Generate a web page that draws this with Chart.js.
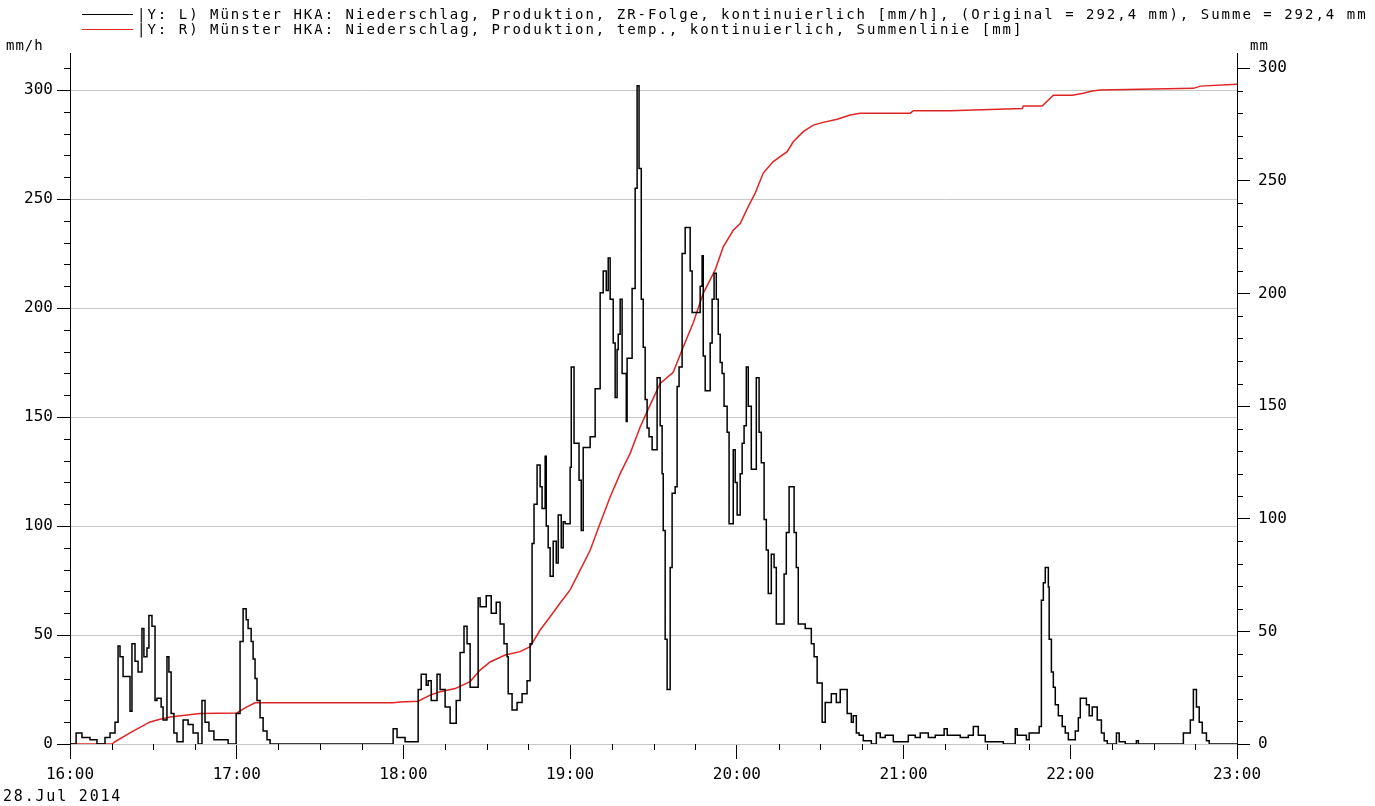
<!DOCTYPE html>
<html>
<head>
<meta charset="utf-8">
<script src="https://cdn.jsdelivr.net/npm/chart.js@4.4.1/dist/chart.umd.min.js"></script>
<style>
  body { margin: 0; background: #ffffff; }
  #wrap { position: relative; width: 1375px; height: 806px; overflow: hidden; font-family: "DejaVu Sans Mono", monospace; color: #000; }
  #wrap canvas { position: absolute; left: 0; top: 0; }
  .txt { position: absolute; font-size: 14px; letter-spacing: 2px; white-space: nowrap; line-height: 15px; }
  .sample { position: absolute; left: 82px; width: 51px; height: 0; border-top: 1.5px solid; }
</style>
</head>
<body>
<div id="wrap">
  <canvas id="rain" width="1375" height="806"></canvas>
  <div class="sample" style="top:14px;border-color:#000000"></div>
  <div class="sample" style="top:29px;border-color:#e02424"></div>
  <div class="txt" style="left:137px;top:7px">|Y: L) Münster HKA: Niederschlag, Produktion, ZR-Folge, kontinuierlich [mm/h], (Original = 292,4 mm), Summe = 292,4 mm</div>
  <div class="txt" style="left:137px;top:22px">|Y: R) Münster HKA: Niederschlag, Produktion, temp., kontinuierlich, Summenlinie [mm]</div>
  <div class="txt" style="left:6px;top:38px;letter-spacing:1px">mm/h</div>
  <div class="txt" style="left:1250px;top:38px;letter-spacing:1px">mm</div>
  <div class="txt" style="left:3px;top:789px;font-size:15px;letter-spacing:1.8px">28.Jul 2014</div>
</div>
<script>
// time axis in minutes after 16:00
const hourLabels = ['16:00', '17:00', '18:00', '19:00', '20:00', '21:00', '22:00', '23:00'];

// ZR-Folge (mm/h), step values, left axis
const rateMinutes = [
  0, 2.2, 4.3, 7.2, 9.7, 12.6, 14.4, 16.2, 17.3, 18, 19.1, 21.6, 22.3, 23.4, 24.5, 25.9, 26.6, 27.7, 28.4, 29.5,
  30.6, 31.3, 32.8, 33.5, 34.9, 35.6, 36.4, 37.4, 38.5, 40.7, 42.5, 44.3, 46.1, 47.5, 48.6, 50, 51.8, 56.9, 59.8,
  61.2, 62.3, 63.4, 64.1, 65.2, 65.9, 66.6, 67.3, 68.4, 69.5, 70.9, 72,
  116.3, 117.7, 120.6, 125.3, 126.4, 128.2, 128.9, 130, 132.1, 133.2, 135, 136.8, 139, 140.4, 141.8, 142.9, 144,
  146.9, 147.6, 149.8, 151.6, 153.4, 154.8, 156.2, 157.3, 157.7, 159.1, 160.9, 162.7, 164.5, 165.6, 166.3, 167,
  168.1, 169.2, 169.9, 171, 171.4, 172.1, 172.8, 173.9, 175, 175.7, 176.8, 177.5, 178.2, 180, 180.4, 181.4, 183.2,
  184, 184.7, 187.2, 189, 190.8, 191.9, 193, 193.7, 194.4, 195.5, 196.2, 196.9, 197.3, 198, 198.7, 200.2, 200.5,
  202.3, 203.4, 204.1, 204.8, 205.6, 206.3, 207, 207.7, 208.4, 209.5, 211.3, 212.4, 213.1, 213.5, 214.2, 214.9,
  216, 216.7, 217.8, 218.5, 219.2, 220.3, 221.4, 223.2, 223.9, 226.8, 227.5, 227.9, 228.6, 230.4, 231.1, 231.8,
  232.6, 233.3, 234, 234.7, 235.4, 236.5, 237.2, 238.7, 239.4, 240.1, 241.2, 241.9, 242.6, 243.4, 244.1, 245.2,
  247, 248, 248.8, 249.8, 250.6, 251.3, 252.4, 253.4, 254.2, 257, 257.8, 258.8, 260.6, 261.4, 262.1, 264.6, 266.8,
  267.8, 268.9, 270.7, 271.8, 274, 275.8, 277.2, 279.7, 281.2, 281.9, 283, 284, 285.5, 288.4, 290.2, 291.6, 293.4,
  296.3, 301.7, 304.2, 306, 308.9, 311.4, 314.6, 315.7, 320.4, 323.3, 325.1, 326.9, 329.4, 335.9, 340.2, 340.9,
  344.2, 345.2, 348.8, 349.6, 350.3, 351, 352.1, 352.4, 353.2, 353.9, 354.6, 355.7, 357.1, 358.2, 359.3, 361.8,
  362.9, 363.6, 365.8, 366.8, 367.9, 369.7, 371.2, 372.2, 373.3, 376.6, 377.6, 379.8, 383.8, 384.5, 400.7, 403.2,
  404.3, 405.4, 406.4, 407.5, 409, 410, 420
];
const rateValues = [
  0, 5, 3, 2, 0, 3, 5, 10, 45, 40, 31, 15, 46, 38, 33, 53, 40, 44, 59, 54,
  20, 21, 17, 11, 40, 33, 14, 5, 1, 11, 9, 5, 0, 20, 10, 6, 2, 0, 14,
  47, 62, 57, 53, 47, 39, 30, 20, 12, 6, 2, 0,
  7, 3, 1, 25, 32, 27, 29, 20, 32, 25, 17, 9.5, 20, 42, 54, 46, 26,
  67, 63, 68, 60, 65, 55, 46, 40, 23, 15.6, 19, 23, 29, 46, 92, 110,
  128, 118, 108, 132, 100, 90, 77, 93, 83, 105, 90, 102, 101, 127, 173, 138, 121,
  98, 136, 141, 163, 207, 217, 208, 223, 204, 184, 159, 181, 188, 204, 170, 148, 177,
  209, 255, 302, 264, 204, 182, 158, 145, 141, 135, 168, 146, 124, 98, 48, 25,
  81, 115, 118, 164, 173, 225, 237, 217, 198, 210, 224, 178, 162, 184, 204, 216,
  204, 188, 175, 170, 155, 143, 101, 135, 120, 105, 124, 138, 146, 173, 155, 126,
  168, 143, 129, 103, 89, 69, 87, 81, 55, 78, 97, 118, 97, 81, 55, 53, 46,
  40, 28, 10, 19, 23, 19, 25, 14, 10, 13, 5, 4, 1.5, 0, 5, 3, 4,
  1, 4, 3, 5, 3, 4, 7, 4, 3, 4, 8, 4, 1, 0, 7, 4,
  2, 5, 8, 66, 74, 81, 72, 48, 33, 26, 18, 13, 8, 5, 2, 6,
  12, 21, 18, 13, 17, 11, 5, 1.5, 0, 5, 1, 0, 1.5, 0, 5, 11,
  25, 17, 10, 5, 1.5, 0, 0
];

// Summenlinie (mm), right axis
const sumMinutes = [
  0, 15.1, 16.2, 21.6, 28.8, 32.4, 36, 46.8, 60.1, 63, 66.6, 116.3, 118.8, 125.3, 129.6, 133.2, 138.6, 144,
  147.6, 151.2, 156.6, 162, 165.6, 169.2, 172.8, 176.4, 180, 183.6, 187.2, 190.8, 194.4, 198, 201.6, 205.2,
  208.8, 212.4, 217.1, 220.3, 224.3, 227.9, 232.2, 235.1, 238.7, 241.2, 244.1, 246.6, 249.5, 253.1, 258.1,
  260.3, 263.9, 267.5, 271.1, 276.1, 280.8, 284.4, 302.4, 303.5, 316.8, 342.7, 343.1, 349.9, 353.9, 360.7,
  364.7, 367.9, 370.8, 404.3, 406.8, 420
];
const sumValues = [
  0, 0, 1, 4.9, 9.8, 11, 12, 13.5, 13.8, 16, 18.3, 18.3, 18.6, 19, 21.7, 23.2, 24.6, 27.7,
  32.8, 36.4, 39.5, 41, 43.2, 50.6, 56.5, 62.6, 68.4, 77.2, 86, 98, 109.6, 120, 129, 140.7,
  150.5, 160, 165, 175, 187, 200, 210.4, 220.7, 228, 231, 238.5, 244.5, 253.4, 258.5, 262.9,
  267.3, 271.8, 274.7, 275.9, 277.3, 279.2, 280, 280, 281.1, 281.1, 282.1, 283.2, 283.2, 288, 288,
  288.8, 289.8, 290.3, 291, 292, 292.8
];

const TICK_FONT = { family: 'DejaVu Sans Mono', size: 16 };

// small tick marks between the labelled ones
const minorTicks = {
  id: 'minorTicks',
  afterDraw(chart) {
    const ctx = chart.ctx;
    const { x, yL, yR } = chart.scales;
    ctx.save();
    ctx.strokeStyle = '#000000';
    ctx.lineWidth = 1;
    ctx.beginPath();
    for (let m = 15; m < 420; m += 15) {
      if (m % 60 === 0) continue;
      const px = Math.round(x.getPixelForValue(m)) + 0.5;
      ctx.moveTo(px, x.top); ctx.lineTo(px, x.top + 6);
    }
    for (let v = 10; v <= 310; v += 10) {
      if (v % 50 === 0) continue;
      const py = Math.round(yL.getPixelForValue(v)) + 0.5;
      ctx.moveTo(yL.right, py); ctx.lineTo(yL.right - 6, py);
    }
    for (let v = 10; v <= 300; v += 10) {
      if (v % 50 === 0) continue;
      const py = Math.round(yR.getPixelForValue(v)) + 0.5;
      ctx.moveTo(yR.left, py); ctx.lineTo(yR.left + 6, py);
    }
    ctx.stroke();
    ctx.restore();
  }
};

new Chart(document.getElementById('rain'), {
  type: 'line',
  data: {
    datasets: [
      {
        label: 'ZR-Folge',
        data: rateMinutes.map((m, i) => ({ x: m, y: rateValues[i] })),
        borderColor: '#000000',
        borderWidth: 1.5,
        pointRadius: 0,
        stepped: true,
        yAxisID: 'yL'
      },
      {
        label: 'Summenlinie',
        data: sumMinutes.map((m, i) => ({ x: m, y: sumValues[i] })),
        borderColor: '#e02424',
        borderWidth: 1.5,
        pointRadius: 0,
        tension: 0,
        yAxisID: 'yR'
      }
    ]
  },
  options: {
    responsive: false,
    animation: false,
    layout: { padding: { top: 53, left: 0, right: 0, bottom: 0 } },
    plugins: { legend: { display: false }, tooltip: { enabled: false } },
    scales: {
      x: {
        type: 'linear',
        min: 0,
        max: 420,
        afterFit: s => { s.height = 62; },
        border: { display: false },
        grid: { drawOnChartArea: false, tickLength: 15, tickColor: '#000000' },
        ticks: {
          stepSize: 60,
          color: '#000000',
          font: TICK_FONT,
          padding: 6,
          maxRotation: 0,
          callback: v => hourLabels[v / 60]
        }
      },
      yL: {
        position: 'left',
        min: 0,
        max: 317,
        afterFit: s => { s.width = 70; },
        border: { color: '#000000', width: 1 },
        grid: { color: '#c8c8c8', lineWidth: 1, tickLength: 13, tickColor: '#000000' },
        ticks: { stepSize: 50, includeBounds: false, color: '#000000', font: TICK_FONT, padding: 4 }
      },
      yR: {
        position: 'right',
        min: 0,
        max: 306.7,
        afterFit: s => { s.width = 138; },
        border: { color: '#000000', width: 1 },
        grid: { drawOnChartArea: false, tickLength: 13, tickColor: '#000000' },
        ticks: { stepSize: 50, includeBounds: false, color: '#000000', font: TICK_FONT, padding: 8 }
      }
    }
  },
  plugins: [minorTicks]
});
</script>
</body>
</html>
